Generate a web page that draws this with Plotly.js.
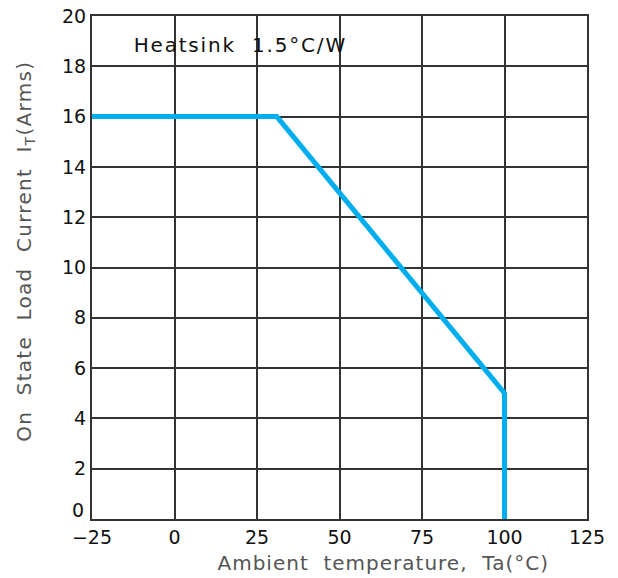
<!DOCTYPE html>
<html>
<head>
<meta charset="utf-8">
<script src="https://cdn.plot.ly/plotly-3.0.1.min.js"></script>
<style>
html,body{margin:0;padding:0;background:#fff;}
#chart{width:618px;height:578px;}
#chart g.annotation[data-index="0"] text{letter-spacing:1.8px;}
#chart g.annotation[data-index="2"] text{letter-spacing:1px;}
#chart g.annotation[data-index="3"] text{letter-spacing:1.3px;}
</style>
</head>
<body>
<div id="chart"></div>
<script>
const temperature = [-25, 31, 100, 100];
const current = [16, 16, 5, 0];
const xTicks = [-25, 0, 25, 50, 75, 100, 125];
const xTickText = ['\u221225', '0', '25', '50', '75', '100', '125'];
const yTicks = [0, 2, 4, 6, 8, 10, 12, 14, 16, 18, 20];
const yTickText = ['', '2', '4', '6', '8', '10', '12', '14', '16', '18', '20'];
const yZeroLabel = '0';
const noteText = 'Heatsink  1.5\u00b0C/W';
const xTitle = 'Ambient  temperature,  Ta(\u00b0C)';
const yTitle = 'On  State  Load  Current  I<sub>T</sub>(Arms)';

const fontFam = 'DejaVu Sans, sans-serif';
const data = [{
  x: temperature, y: current, type: 'scatter', mode: 'lines',
  line: {color: '#00AEEF', width: 5}, hoverinfo: 'skip'
}];
const layout = {
  width: 618, height: 578,
  margin: {l: 92, r: 31, t: 16, b: 59},
  paper_bgcolor: '#fff', plot_bgcolor: '#fff',
  showlegend: false,
  font: {family: fontFam, color: '#111', size: 19},
  xaxis: {
    range: [-25, 125], tickvals: xTicks, ticktext: xTickText,
    showgrid: true, gridcolor: '#333', gridwidth: 2,
    showline: true, linecolor: '#333', linewidth: 2, mirror: true,
    zeroline: false, ticks: '', ticklen: 0,
    tickfont: {size: 19, color: '#111', family: fontFam}
  },
  yaxis: {
    range: [0, 20], tickvals: yTicks, ticktext: yTickText,
    showgrid: true, gridcolor: '#333', gridwidth: 2,
    showline: true, linecolor: '#333', linewidth: 2, mirror: true,
    zeroline: false, ticks: '', ticklen: 0,
    tickfont: {size: 19, color: '#111', family: fontFam}
  },
  annotations: [
    {
      x: -8.3, y: 18.85, xref: 'x', yref: 'y', xanchor: 'left', yanchor: 'middle',
      text: noteText, showarrow: false,
      font: {size: 20, color: '#111', family: fontFam}
    },
    {
      x: -25, y: 0, xref: 'x', yref: 'y', xanchor: 'right', yanchor: 'middle',
      xshift: -6, yshift: 9,
      text: yZeroLabel, showarrow: false,
      font: {size: 19, color: '#111', family: fontFam}
    },
    {
      x: 0.588, y: -0.088, xref: 'paper', yref: 'paper', xanchor: 'center', yanchor: 'middle',
      text: xTitle, showarrow: false,
      font: {size: 20, color: '#555', family: fontFam}
    },
    {
      x: -0.135, y: 0.532, xref: 'paper', yref: 'paper', xanchor: 'center', yanchor: 'middle',
      text: yTitle, showarrow: false, textangle: -90,
      font: {size: 20, color: '#555', family: fontFam}
    }
  ]
};
Plotly.newPlot('chart', data, layout, {staticPlot: true});
</script>
</body>
</html>
